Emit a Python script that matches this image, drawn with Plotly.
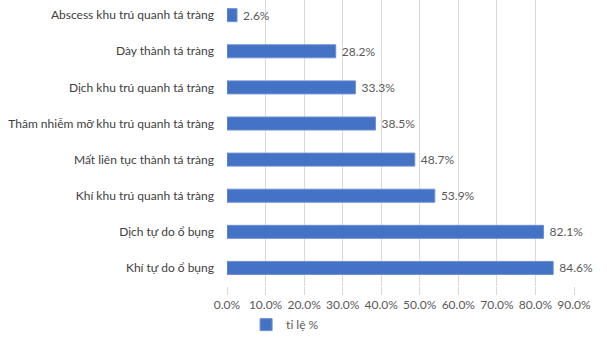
import plotly.graph_objects as go

categories = [
    "Khí tự do ổ bụng",
    "Dịch tự do ổ bụng",
    "Khí khu trú quanh tá tràng",
    "Mất liên tục thành tá tràng",
    "Thâm nhiễm mỡ khu trú quanh tá tràng",
    "Dịch khu trú quanh tá tràng",
    "Dày thành tá tràng",
    "Abscess khu trú quanh tá tràng",
]
values = [0.846, 0.821, 0.539, 0.487, 0.385, 0.333, 0.282, 0.026]
series_name = "tỉ lệ %"
tick_values = [0.0, 0.1, 0.2, 0.3, 0.4, 0.5, 0.6, 0.7, 0.8, 0.9]

FONT = "Lato"
GREY = "#595959"

fig = go.Figure()
fig.add_trace(go.Bar(
    y=categories, x=values, orientation="h", name=series_name,
    marker=dict(color="#4472C4", line=dict(color="#6A8FD6", width=1)),
    width=0.36,
    text=values, texttemplate=" %{x:.1%}", textposition="outside",
    textfont=dict(family=FONT, size=12, color=GREY),
    constraintext="none",
    cliponaxis=False,
))
fig.update_layout(
    width=607, height=340,
    margin=dict(l=227, r=33, t=0, b=54),
    paper_bgcolor="white", plot_bgcolor="white",
    font=dict(family=FONT, size=12, color=GREY),
    showlegend=True,
    legend=dict(orientation="h", x=0.055, xanchor="left", y=-0.135, yanchor="middle",
                font=dict(family=FONT, size=12, color=GREY), itemwidth=30),
    xaxis=dict(range=[0, 0.9], tickvals=tick_values, tickformat=".1%",
               showgrid=True, gridcolor="#D9D9D9", gridwidth=1,
               ticks="outside", ticklen=8, tickcolor="#D9D9D9",
               showline=False, zeroline=False,
               tickfont=dict(family=FONT, size=12, color=GREY)),
    yaxis=dict(type="category", range=[-0.5, 7.42], showgrid=False,
               showline=False, ticks="", ticklabelstandoff=12,
               tickfont=dict(family=FONT, size=12, color="#404040")),
    bargap=0.64,
)
fig.write_html("out.html")
